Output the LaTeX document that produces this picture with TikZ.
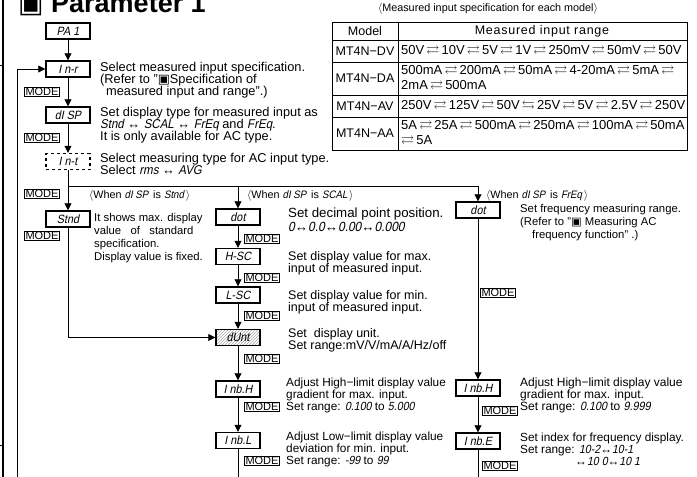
\documentclass[tikz,border=0pt]{standalone}
\usepackage{amssymb}
\usepackage{fontspec}
\setmainfont{Liberation Sans}
\newfontfamily\segfont[FakeSlant=0.2,FakeStretch=0.9]{Liberation Sans}
\newfontfamily\symfont{DejaVu Sans}
\usetikzlibrary{arrows.meta,patterns,positioning}

\newcommand\sg[1]{{\segfont #1}}
\newcommand\rl{\,$\rightleftarrows$\,}
\newcommand\bsq{{\symfont\char"25A3}}
\newcommand\fs[2]{\fontsize{#1}{#2}\selectfont}

\begin{document}
\begin{tikzpicture}[x=1pt,y=-1pt,
  font=\fs{12.5}{12},
  disp/.style={draw,line width=1.4pt,minimum width=44pt,minimum height=16pt,
    inner sep=0pt,font=\fontsize{12}{12}\segfont},
  modebox/.style={draw,line width=0.6pt,inner sep=0.8pt,font=\fs{11}{11}},
  txt/.style={anchor=north west,align=left,inner sep=0pt},
  when/.style={anchor=base west,inner sep=0pt,font=\fs{10.8}{11}},
  flow/.style={-{Triangle[length=7pt,width=7pt]},line width=0.8pt}]
\useasboundingbox (0,0) rectangle (697,477);

% title and frame
\node[anchor=base west,inner sep=0pt,font=\fs{27}{27}\bfseries] (title) at (18,12) {\bsq{} Parameter 1};
\draw[line width=1.2pt] (3,-5) -- (3,485);
\draw[line width=1pt] (0,65) -- (3,65) (0,445) -- (3,445);

% model table
\node[font=\fs{10.8}{11}] (cap) at (488,9) {$\langle$Measured input specification for each model$\rangle$};
\draw[line width=0.8pt] (332,22) rectangle (687,150);
\draw[line width=0.6pt] (398,22) -- (398,150);
\foreach \y in {40,62,95,117} \draw[line width=0.6pt] (332,\y) -- (687,\y);
\node (mhd) at (365,31) {Model};
\node[font=\fs{12.5}{12}\addfontfeature{LetterSpace=6}] (rhd) at (542,31) {Measured input range};
\node (mdv) at (365,51) {MT4N−DV};
\node (mda) at (365,78.5) {MT4N−DA};
\node (mav) at (365,106) {MT4N−AV};
\node (maa) at (365,133.5) {MT4N−AA};
\begin{scope}[every node/.style={txt,anchor=west,font=\fs{13}{15.5}}]
\node (rdv) at (401,51) {50V\rl 10V\rl 5V\rl 1V\rl 250mV\rl 50mV\rl 50V};
\node (rda) at (401,78.5) {500mA\rl 200mA\rl 50mA\rl 4-20mA\rl 5mA\rl\\2mA\rl 500mA};
\node (rav) at (401,106) {250V\rl 125V\rl 50V\,$\leftrightarrows$\,25V\rl 5V\rl 2.5V\rl 250V};
\node (raa) at (401,133.5) {5A\rl 25A\rl 500mA\rl 250mA\rl 100mA\rl 50mA\\$\rightleftarrows$\,5A};
\end{scope}

% left column
\node[disp] (pa1) at (68,31) {PA 1};
\node[disp] (inr) at (68,69) {I n-r};
\node[disp] (dsp) at (68,115) {dI SP};
\node[disp,dashed] (int) at (68,161.5) {I n-t};
\node[disp] (stnd) at (68,219) {Stnd};
\node[modebox] (m1) at (42,92) {MODE};
\node[modebox] (m2) at (42,137.5) {MODE};
\node[modebox] (m3) at (42,194) {MODE};
\node[modebox] (m4) at (42,236) {MODE};
\node[txt,font=\fs{12.8}{12}] (tinr) at (100,62) {Select measured input specification.\\(Refer to "\bsq Specification of\\\hspace{6pt}measured input and range".)};
\node[txt,font=\fs{12.8}{12}] (tdsp) at (100,107) {Set display type for measured input as\\\sg{Stnd} ↔ \sg{SCAL} ↔ \sg{FrEq} and \sg{FrEq}.\\It is only available for AC type.};
\node[txt,font=\fs{12.8}{12}] (tint) at (100,153) {Select measuring type for AC input type.\\Select \sg{rms} ↔ \sg{AVG}};
\node[txt,font=\fs{11.3}{13}] (tstnd) at (94,213) {It shows max. display\\value\ \ \ of\ \ \ standard\\specification.\\Display value is fixed.};

% middle column
\node[disp] (dotm) at (238,217) {dot};
\node[disp] (hsc) at (238,256.5) {H-SC};
\node[disp] (lsc) at (238,295) {L-SC};
\node[disp,pattern=north east lines,pattern color=gray!70] (dunt) at (238,337.5) {dUnt};
\node[disp] (inbhm) at (238,389) {I nb.H};
\node[disp] (inblm) at (238,440.5) {I nb.L};
\node[modebox] (m5) at (262,239) {MODE};
\node[modebox] (m6) at (262,278) {MODE};
\node[modebox] (m7) at (262,315.5) {MODE};
\node[modebox] (m8) at (262,359) {MODE};
\node[modebox] (m9) at (262,407) {MODE};
\node[modebox] (m10) at (262,461) {MODE};
\node[txt,font=\fs{13.3}{14}] (tdotm) at (288,208) {Set decimal point position.\\\sg{0}↔\sg{0.0}↔\sg{0.00}↔\sg{0.000}};
\node[txt] (thsc) at (288,251) {Set display value for max.\\input of measured input.};
\node[txt] (tlsc) at (288,290) {Set display value for min.\\input of measured input.};
\node[txt] (tdunt) at (288,328) {Set\ \ display unit.\\Set range:mV/V/mA/A/Hz/off};
\node[txt,font=\fs{11.8}{12}] (tinbhm) at (286,378) {Adjust High−limit display value\\gradient for max. input.\\Set range: \sg{0.100} to \sg{5.000}};
\node[txt,font=\fs{11.8}{12}] (tinblm) at (286,432) {Adjust Low−limit display value\\deviation for min. input.\\Set range: \sg{-99} to \sg{99}};

% right column
\node[disp] (dotr) at (478,210) {dot};
\node[disp] (inbhr) at (478,388) {I nb.H};
\node[disp] (inber) at (478,441) {I nb.E};
\node[modebox] (m11) at (498,293) {MODE};
\node[modebox] (m12) at (500,411) {MODE};
\node[modebox] (m13) at (500,466) {MODE};
\node[txt,font=\fs{11.3}{13}] (tdotr) at (520,204) {Set frequency measuring range.\\(Refer to "\bsq{} Measuring AC\\\hspace{12pt}frequency function" .)};
\node[txt,font=\fs{12}{12}] (tinbhr) at (520,378) {Adjust High−limit display value\\gradient for max. input.\\Set range: \sg{0.100} to \sg{9.999}};
\node[txt,font=\fs{11.8}{12}] (tinber) at (520,433) {Set index for frequency display.\\Set range: \sg{10-2}↔\sg{10-1}\\\hspace{55pt}↔\sg{10 0}↔\sg{10 1}};

% branch for display type
\coordinate (brl) at (68,186);
\coordinate (brm) at (238,186);
\coordinate (brr) at (478,186);
\draw[line width=0.8pt] (brl) -- (brr);
\node[when] (w1) at (89,198) {$\langle$When \sg{dI SP}\, is \sg{Stnd}\,$\rangle$};
\node[when] (w2) at (247,198) {$\langle$When \sg{dI SP}\, is \sg{SCAL}\,$\rangle$};
\node[when] (w3) at (486,198) {$\langle$When \sg{dI SP}\, is \sg{FrEq}\,$\rangle$};

% connectors
\coordinate (lp) at (17,485);
\coordinate (endm) at (238,484);
\coordinate (endr) at (478,484);
\draw[flow] (lp) |- (inr.west);
\draw[flow] (pa1) -- (inr);
\draw[flow] (inr) -- (dsp);
\draw[flow] (dsp) -- (int);
\draw[flow] (int) -- (stnd);
\draw[flow] (brm) -- (dotm);
\draw[flow] (brr) -- (dotr);
\draw[flow] (stnd) |- (dunt.west);
\draw[flow] (dotm) -- (hsc);
\draw[flow] (hsc) -- (lsc);
\draw[flow] (lsc) -- (dunt);
\draw[flow] (dunt) -- (inbhm);
\draw[flow] (inbhm) -- (inblm);
\draw[flow] (inblm) -- (endm);
\draw[flow] (dotr) -- (inbhr);
\draw[flow] (inbhr) -- (inber);
\draw[line width=0.8pt] (inber) -- (endr);
\end{tikzpicture}
\end{document}
